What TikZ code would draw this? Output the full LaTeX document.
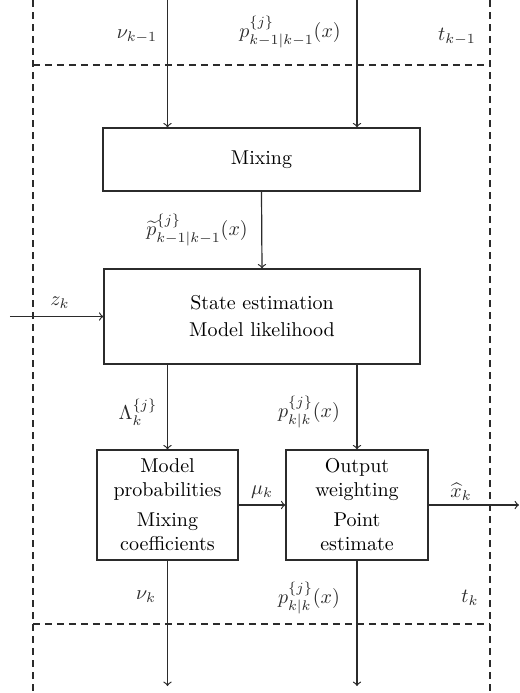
\documentclass[tikz,border=0pt]{standalone}
\usepackage{amsmath,amssymb}
\usepackage{xcolor}
\definecolor{LineDark}{HTML}{2B2B2B}

\begin{document}
\begin{tikzpicture}[
	x=0.5pt, y=-0.5pt,
	% Block style
	block/.style={
		draw=LineDark,
		line width=0.65pt,
		rectangle,
		align=center,
		inner sep=0pt,
		font=\normalsize
	},
	% Signal arrow style
	signal/.style={
		draw=LineDark,
		line width=0.6pt,
		->
	},
	% Time slice frame
	frame/.style={
		draw=LineDark,
		line width=0.6pt,
		dash pattern=on 3.5pt off 2.5pt
	},
	lbl/.style={
		inner sep=0pt,
		text=LineDark
	}
	]
	\useasboundingbox (0,0) rectangle (520,693);
	
	% ================= FRAME =================
	\draw[frame] (33,0) -- (33,693);
	\draw[frame] (490,0) -- (490,693);
	\draw[frame] (33,65) -- (490,65);
	\draw[frame] (33,624) -- (490,624);
	
	% ================= NODES =================
	\node[block, minimum width=158.5pt, minimum height=31.5pt] (mix) at (261.5,159.5) {Mixing};
	
	\node[block, minimum width=158pt, minimum height=47.5pt] (state) at (262,316.5)
		{State estimation\\[1.5pt]Model likelihood};
	
	\node[block, minimum width=70.5pt, minimum height=55pt] (prob) at (167.5,505)
		{Model\\probabilities\\[3pt]Mixing\\coefficients};
	\node[block, minimum width=71pt, minimum height=55pt] (out) at (357,505)
		{Output\\weighting\\[3pt]Point\\estimate};
	
	% free ends
	\coordinate (nuin) at (167.5,0);
	\coordinate (pin) at (357,0);
	\coordinate (zin) at (10,316.5);
	\coordinate (xout) at (519,505);
	\coordinate (nuout) at (167.5,686);
	\coordinate (pout) at (357,686);
	
	% ================= EDGES =================
	\draw[signal] (nuin) -- (nuin |- mix.north);
	\draw[signal] (pin) -- (pin |- mix.north);
	
	\draw[signal] (mix.south) -- (state.north);
	\draw[signal] (zin) -- (state.west);
	
	\draw[signal] (state.south -| prob) -- (prob.north);
	\draw[signal] (state.south -| out) -- (out.north);
	
	\draw[signal] (prob.east) -- (out.west);
	\draw[signal] (out.east) -- (xout);
	
	\draw[signal] (prob.south) -- (nuout);
	\draw[signal] (out.south) -- (pout);
	
	% ================= LABELS =================
	\node[lbl] (nuprev) at (137,37) {$\nu_{k-1}$};
	\node[lbl] (pprev) at (290,32) {$p^{\{j\}}_{k-1|k-1}(x)$};
	\node[lbl] (tprev) at (457,37) {$t_{k-1}$};
	
	\node[lbl] (pmix) at (197,230) {$\widetilde{p}^{\{j\}}_{k-1|k-1}(x)$};
	\node[lbl] (zlbl) at (60,303) {$z_k$};
	
	\node[lbl] (lam) at (138,412) {$\Lambda^{\{j\}}_k$};
	\node[lbl] (pupd) at (309,412) {$p^{\{j\}}_{k|k}(x)$};
	
	\node[lbl] (mulbl) at (262,492) {$\mu_k$};
	\node[lbl] (xlbl) at (461,492) {$\widehat{x}_k$};
	
	\node[lbl] (nulbl) at (146,597) {$\nu_k$};
	\node[lbl] (pnext) at (309,598) {$p^{\{j\}}_{k|k}(x)$};
	\node[lbl] (tlbl) at (470,598) {$t_k$};
	
\end{tikzpicture}
\end{document}
